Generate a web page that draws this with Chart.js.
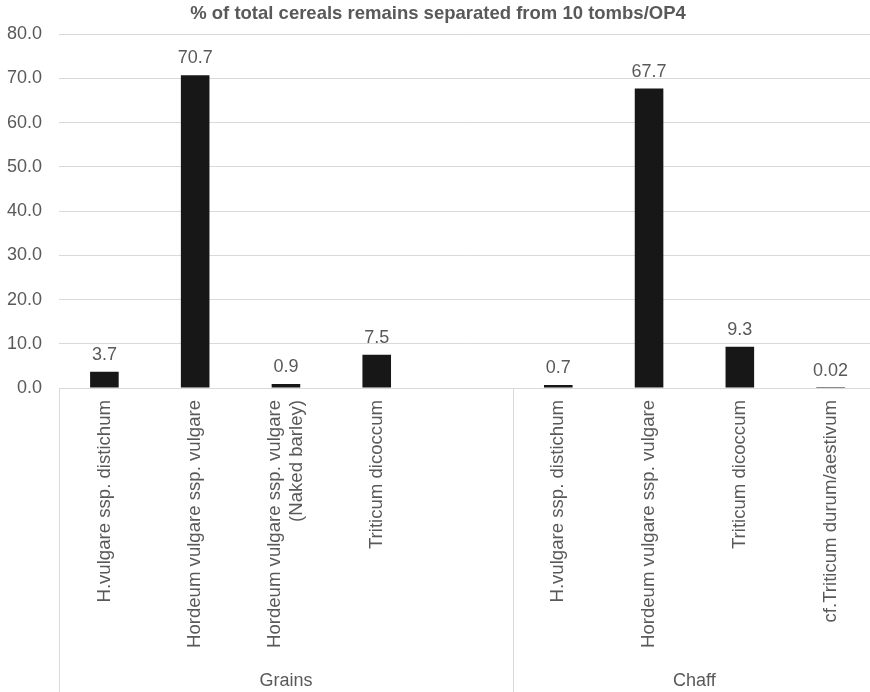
<!DOCTYPE html>
<html>
<head>
<meta charset="utf-8">
<script src="https://cdn.jsdelivr.net/npm/chart.js@4"></script>
<style>
  html, body { margin: 0; padding: 0; background: #fff; overflow: hidden; }
  #wrap { width: 876px; height: 692px; }
</style>
</head>
<body>
<div id="wrap"><canvas id="chart"></canvas></div>
<script>
const TITLE = "% of total cereals remains separated from 10 tombs/OP4";
const CATEGORIES = [
  "H.vulgare ssp. distichum",
  "Hordeum vulgare ssp. vulgare",
  ["Hordeum vulgare ssp. vulgare", "(Naked barley)"],
  "Triticum dicoccum",
  "",
  "H.vulgare ssp. distichum",
  "Hordeum vulgare ssp. vulgare",
  "Triticum dicoccum",
  "cf.Triticum durum/aestivum",
];
const VALUES = [3.7, 70.7, 0.9, 7.5, null, 0.7, 67.7, 9.3, 0.02];
const GROUPS = ["Grains", "Chaff"];
const GROUP_SIZES = [5, 4];
const Y_TICKS = [0, 10, 20, 30, 40, 50, 60, 70, 80];

const FONT = "'Liberation Sans', Arial, sans-serif";
const TEXT = "#595959";
const GRID = "#d9d9d9";
const X_FONT_SIZE = 18.6;

// value labels above bars
const barLabels = {
  id: "barLabels",
  afterDatasetsDraw(chart) {
    const ctx = chart.ctx;
    const meta = chart.getDatasetMeta(0);
    ctx.save();
    ctx.font = `18px ${FONT}`;
    ctx.fillStyle = TEXT;
    ctx.textAlign = "center";
    ctx.textBaseline = "alphabetic";
    meta.data.forEach((bar, i) => {
      if (VALUES[i] == null) return;
      ctx.fillText(String(VALUES[i]), bar.x, bar.y - 12);
    });
    ctx.restore();
  },
};

// center multi-line rotated labels on their tick instead of starting there
const centerMultiline = {
  id: "centerMultiline",
  beforeDraw(chart) {
    const items = chart.scales.x.getLabelItems();
    const lh = X_FONT_SIZE * 1.2;
    items.forEach(it => {
      if (Array.isArray(it.label) && it.label.length > 1 && !it._centered) {
        it.options.translation[0] -= (it.label.length - 1) * lh / 2;
        it._centered = true;
      }
    });
  },
};

// group separators and group names under the category labels
const groupAxis = {
  id: "groupAxis",
  afterDraw(chart) {
    const x = chart.scales.x;
    const ctx = chart.ctx;
    const bottom = chart.height;
    ctx.save();
    ctx.strokeStyle = GRID;
    ctx.lineWidth = 1;
    ctx.font = `18px ${FONT}`;
    ctx.fillStyle = TEXT;
    ctx.textAlign = "center";
    ctx.textBaseline = "alphabetic";
    let start = 0;
    GROUPS.forEach((name, g) => {
      const end = start + GROUP_SIZES[g] - 1;
      const left = start === 0 ? x.left : (x.getPixelForValue(start - 1) + x.getPixelForValue(start)) / 2;
      const right = end === CATEGORIES.length - 1 ? x.right : (x.getPixelForValue(end) + x.getPixelForValue(end + 1)) / 2;
      const lx = Math.round(left) + 0.5;
      ctx.beginPath();
      ctx.moveTo(lx, x.top);
      ctx.lineTo(lx, bottom);
      ctx.stroke();
      ctx.fillText(name, (left + right) / 2, 686);
      start = end + 1;
    });
    ctx.restore();
  },
};

new Chart(document.getElementById("chart"), {
  type: "bar",
  data: {
    labels: CATEGORIES,
    datasets: [{
      data: VALUES,
      backgroundColor: "#171717",
      borderWidth: 0,
      barPercentage: 0.315,
      categoryPercentage: 1,
    }],
  },
  options: {
    responsive: true,
    maintainAspectRatio: false,
    animation: false,
    layout: { padding: 0 },
    plugins: {
      legend: { display: false },
      tooltip: { enabled: false },
      title: {
        display: true,
        text: TITLE,
        color: TEXT,
        font: { family: FONT, size: 18.5, weight: "bold" },
        padding: { top: 3, bottom: 9 },
      },
    },
    scales: {
      x: {
        grid: { display: false, drawTicks: false },
        border: { display: false },
        ticks: {
          autoSkip: false,
          minRotation: 90,
          maxRotation: 90,
          padding: 12,
          color: TEXT,
          font: { family: FONT, size: X_FONT_SIZE },
        },
        afterFit(s) { s.height = 304; },
      },
      y: {
        min: 0,
        max: 80,
        afterBuildTicks(s) { s.ticks = Y_TICKS.map(v => ({ value: v })); },
        grid: { color: GRID, drawTicks: false },
        border: { display: false },
        ticks: {
          padding: 17,
          color: TEXT,
          font: { family: FONT, size: 18 },
          callback: v => v.toFixed(1),
        },
        afterFit(s) { s.width = 59; },
      },
    },
  },
  plugins: [barLabels, centerMultiline, groupAxis],
});
</script>
</body>
</html>
